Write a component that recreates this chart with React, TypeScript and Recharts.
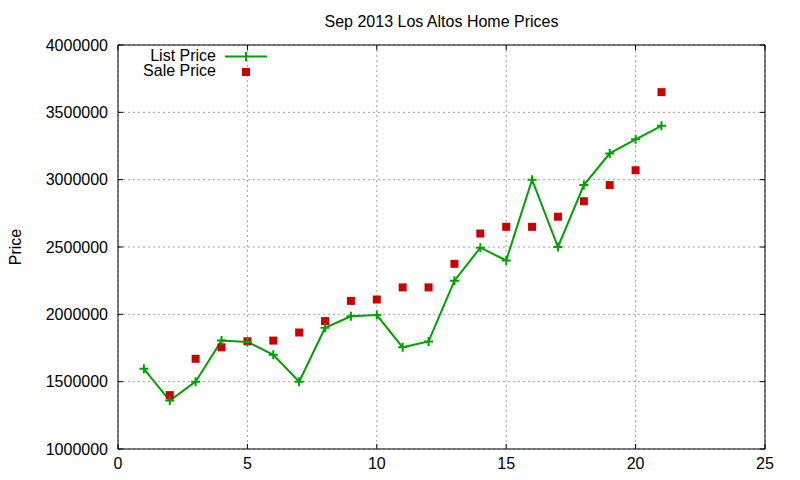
import React from 'react';
import { ComposedChart, Line, Scatter, XAxis, YAxis, CartesianGrid, Legend } from 'recharts';

const FONT = '"Liberation Sans", Arial, sans-serif';
const GREEN = '#00a000';
const RED = '#cc0000';

// days of the month that had listings
const days = [1, 2, 3, 4, 5, 6, 7, 8, 9, 10, 11, 12, 13, 14, 15, 16, 17, 18, 19, 20, 21];
const listPrices = [
  1595000, 1360000, 1500000, 1805000, 1795000, 1700000, 1500000, 1900000, 1985000, 1995000,
  1755000, 1799000, 2250000, 2495000, 2400000, 3000000, 2500000, 2960000, 3195000, 3300000, 3400000,
];
// no sale recorded on day 1
const saleDays = [2, 3, 4, 5, 6, 7, 8, 9, 10, 11, 12, 13, 14, 15, 16, 17, 18, 19, 20, 21];
const salePrices = [
  1400000, 1670000, 1755000, 1800000, 1805000, 1865000, 1950000, 2100000, 2110000, 2200000,
  2200000, 2375000, 2600000, 2650000, 2650000, 2725000, 2840000, 2960000, 3070000, 3650000,
];

const xTicks = [0, 5, 10, 15, 20, 25];
const yTicks = [1000000, 1500000, 2000000, 2500000, 3000000, 3500000, 4000000];

const listData = days.map((d, i) => ({ x: d, list: listPrices[i] }));
const saleData = saleDays.map((d, i) => ({ x: d, sale: salePrices[i] }));

const textStyle = { fontFamily: FONT, fontSize: 16, fill: '#000' };

const BottomTick = (props: any) => {
  const { x, y, payload } = props;
  return (
    <g>
      <line x1={x} y1={y} x2={x} y2={y - 5} stroke="#000" />
      <text x={x} y={y + 14} textAnchor="middle" dominantBaseline="central" style={textStyle}>
        {payload.value}
      </text>
    </g>
  );
};

const LeftTick = (props: any) => {
  const { x, y, payload } = props;
  return (
    <g>
      <line x1={x} y1={y} x2={x + 5} y2={y} stroke="#000" />
      <text x={x - 10} y={y} textAnchor="end" dominantBaseline="central" style={textStyle}>
        {payload.value}
      </text>
    </g>
  );
};

const TopTick = (props: any) => {
  const { x, y } = props;
  return <line x1={x} y1={y} x2={x} y2={y + 5} stroke="#000" />;
};

const RightTick = (props: any) => {
  const { x, y } = props;
  return <line x1={x} y1={y} x2={x - 5} y2={y} stroke="#000" />;
};

const PlusDot = (props: any) => {
  const { cx, cy, index } = props;
  if (cx == null || cy == null) return null;
  return (
    <path
      key={`p-${index}`}
      d={`M${cx - 4.5},${cy}h9M${cx},${cy - 4.5}v9`}
      stroke={GREEN}
      strokeWidth={2}
      fill="none"
    />
  );
};

const SquareShape = (props: any) => {
  const { cx, cy } = props;
  return <rect x={cx - 4} y={cy - 4} width={8} height={8} fill={RED} />;
};

const PriceLabel = (props: any) => {
  const vb = props.viewBox || {};
  const x = vb.x + 7;
  const y = vb.y + vb.height / 2;
  return (
    <text
      x={x}
      y={y}
      transform={`rotate(-90, ${x}, ${y})`}
      textAnchor="middle"
      dominantBaseline="central"
      style={textStyle}
    >
      Price
    </text>
  );
};

const KeyBox = () => (
  <svg width={170} height={40} style={{ display: 'block' }}>
    <text x={108} y={11} textAnchor="end" dominantBaseline="central" style={textStyle}>
      List Price
    </text>
    <line x1={117} y1={12.5} x2={159} y2={12.5} stroke={GREEN} strokeWidth={2} />
    <path d="M138,8v9" stroke={GREEN} strokeWidth={2} />
    <text x={108} y={26.5} textAnchor="end" dominantBaseline="central" style={textStyle}>
      Sale Price
    </text>
    <rect x={134} y={24} width={8} height={8} fill={RED} />
  </svg>
);

export default function App() {
  return (
    <ComposedChart
      width={784}
      height={464}
      margin={{ top: 36, right: 26, bottom: 0, left: 0 }}
      style={{ fontFamily: FONT }}
    >
      <CartesianGrid stroke="#a0a0a0" strokeDasharray="2 3" />
      <XAxis
        xAxisId={0}
        type="number"
        dataKey="x"
        domain={[0, 25]}
        ticks={xTicks}
        height={23}
        tickSize={0}
        tickMargin={0}
        tickLine={false}
        axisLine={{ stroke: '#000' }}
        tick={<BottomTick />}
        interval={0}
        allowDataOverflow
      />
      <XAxis
        xAxisId="top"
        orientation="top"
        type="number"
        dataKey="x"
        domain={[0, 25]}
        ticks={xTicks}
        height={1}
        tickSize={0}
        tickMargin={0}
        tickLine={false}
        axisLine={{ stroke: '#000' }}
        tick={<TopTick />}
        interval={0}
        allowDataOverflow
        label={{
          value: 'Sep 2013 Los Altos Home Prices',
          position: 'top',
          offset: 17,
          style: textStyle,
        }}
      />
      <YAxis
        yAxisId={0}
        type="number"
        domain={[1000000, 4000000]}
        ticks={yTicks}
        width={110}
        tickSize={0}
        tickMargin={0}
        tickLine={false}
        axisLine={{ stroke: '#000' }}
        tick={<LeftTick />}
        interval={0}
        allowDataOverflow
        label={(p: any) => <PriceLabel {...p} />}
      />
      <YAxis
        yAxisId="right"
        orientation="right"
        type="number"
        domain={[1000000, 4000000]}
        ticks={yTicks}
        width={1}
        tickSize={0}
        tickMargin={0}
        tickLine={false}
        axisLine={{ stroke: '#000' }}
        tick={<RightTick />}
        interval={0}
        allowDataOverflow
      />
      <Legend
        layout="vertical"
        align="center"
        verticalAlign="middle"
        wrapperStyle={{ position: 'absolute', left: 100, top: 36, width: 170, height: 40 }}
        content={() => <KeyBox />}
      />
      <Line
        data={listData}
        dataKey="list"
        type="linear"
        stroke={GREEN}
        strokeWidth={2}
        dot={(p: any) => <PlusDot key={`d-${p.index}`} {...p} />}
        activeDot={false}
        isAnimationActive={false}
      />
      <Scatter
        xAxisId="top"
        yAxisId="right"
        data={saleData}
        dataKey="sale"
        shape={(p: any) => <SquareShape {...p} />}
        isAnimationActive={false}
      />
    </ComposedChart>
  );
}
